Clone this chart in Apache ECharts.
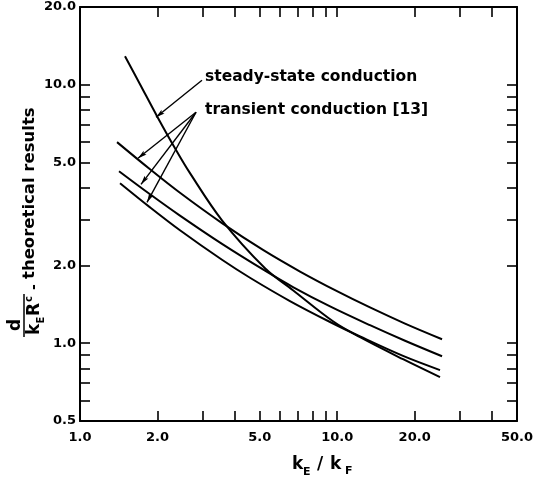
<!DOCTYPE html>
<html>
<head>
<meta charset="utf-8">
<script src="https://cdn.jsdelivr.net/npm/echarts@6/dist/echarts.min.js"></script>
<style>
html, body { margin: 0; padding: 0; background: #fff; }
#chart { width: 539px; height: 481px; }
</style>
</head>
<body>
<div id="chart"></div>
<script>
// axis ticks / labels
var xTicks = [1, 2, 3, 4, 5, 6, 7, 8, 9, 10, 20, 30, 40, 50];
var xLabels = [1, 2, 5, 10, 20, 50];
var yTicks = [0.5, 0.6, 0.7, 0.8, 0.9, 1, 2, 3, 4, 5, 6, 7, 8, 9, 10, 20];
var yLabels = [0.5, 1, 2, 5, 10, 20];

// curves: [kE/kF, value]
var steady = [[1.496, 12.9], [1.711, 10.05], [1.993, 7.56], [2.341, 5.68], [2.677, 4.55],
    [3.565, 2.99], [5.24, 1.951], [6.73, 1.604], [9.63, 1.216], [12.27, 1.055], [18.03, 0.867], [25.1, 0.739]];
var transient1 = [[1.393, 6.0], [1.872, 4.71], [2.447, 3.82], [3.565, 2.915], [5.146, 2.296],
    [7.17, 1.894], [9.98, 1.59], [13.41, 1.375], [18.35, 1.191], [25.56, 1.036]];
var transient2 = [[1.418, 4.63], [1.872, 3.77], [2.447, 3.117], [3.565, 2.423], [5.24, 1.908],
    [6.73, 1.65], [9.38, 1.388], [13.41, 1.174], [18.35, 1.022], [25.56, 0.89]];
var transient3 = [[1.431, 4.16], [1.872, 3.355], [2.447, 2.736], [3.565, 2.103], [4.58, 1.792],
    [6.55, 1.456], [9.38, 1.208], [12.27, 1.062], [18.03, 0.893], [25.1, 0.787]];

// annotation arrows
var steadyArrow = [[2.98, 10.42], [1.975, 7.49]];
var transientFrom = [2.825, 7.83];
var transientTips = [[1.681, 5.20], [1.727, 4.12], [1.822, 3.51]];

var arrowHead = 'path://M-9,-9 M9,9 M0,0 L2.4,9 L0,7.2 L-2.4,9 Z';
var font = 'DejaVu Sans';

function axisX(pos, showLabel) {
    return {
        type: 'log', logBase: 10, min: 1, max: 50, position: pos,
        axisLine: { show: true, lineStyle: { color: '#000', width: 2 } },
        axisTick: { show: true, inside: true, length: 10, customValues: xTicks,
            lineStyle: { color: '#000', width: 1.6 } },
        axisLabel: { show: showLabel, customValues: xLabels, margin: 10,
            color: '#000', fontFamily: font, fontWeight: 'bold', fontSize: 13,
            formatter: function (v) { return v.toFixed(1); } },
        splitLine: { show: false }
    };
}
function axisY(pos, showLabel) {
    return {
        type: 'log', logBase: 10, min: 0.5, max: 20, position: pos,
        axisLine: { show: true, lineStyle: { color: '#000', width: 2 } },
        axisTick: { show: true, inside: true, length: 10, customValues: yTicks,
            lineStyle: { color: '#000', width: 1.6 } },
        axisLabel: { show: showLabel, customValues: yLabels, margin: 4,
            color: '#000', fontFamily: font, fontWeight: 'bold', fontSize: 13,
            formatter: function (v) { return v.toFixed(1); } },
        splitLine: { show: false }
    };
}
function curve(data) {
    return {
        type: 'line', data: data, showSymbol: false, smooth: 0.35, silent: true,
        lineStyle: { color: '#000', width: 2 }
    };
}

var chart = echarts.init(document.getElementById('chart'));

var arrowStyle = { color: '#000', width: 1.4, type: 'solid' };
var s0 = curve(steady);
s0.markLine = {
    silent: true, symbol: ['none', arrowHead], symbolSize: 18, animation: false,
    label: { show: false }, lineStyle: arrowStyle,
    data: [[{ coord: steadyArrow[0] }, { coord: steadyArrow[1] }]]
};
var s1 = curve(transient1);
s1.markLine = {
    silent: true, symbol: ['none', arrowHead], symbolSize: 18, animation: false,
    label: { show: false }, lineStyle: arrowStyle,
    data: transientTips.map(function (t) { return [{ coord: transientFrom }, { coord: t }]; })
};

function txt(x, y, s, size, extra) {
    var o = { type: 'text', x: x, y: y, silent: true,
        style: { text: s, fill: '#000', font: 'bold ' + size + 'px "' + font + '"',
            align: 'left', verticalAlign: 'middle' } };
    if (extra) { for (var k in extra) o.style[k] = extra[k]; }
    return o;
}

var option = {
    animation: false,
    backgroundColor: '#fff',
    grid: { left: 80, right: 22, top: 7, bottom: 60 },
    xAxis: [axisX('bottom', true), axisX('top', false)],
    yAxis: [axisY('left', true), axisY('right', false)],
    series: [s0, s1, curve(transient2), curve(transient3)],
    graphic: [
        txt(205, 77, 'steady-state conduction', 15.5),
        txt(205, 110, 'transient conduction [13]', 15.5),
        // x axis name: kE / kF
        txt(292, 465, 'k', 17),
        txt(303, 472, 'E', 11),
        txt(317, 465, '/', 17),
        txt(330, 465, 'k', 17),
        txt(345, 471, 'F', 11),
        // y axis name, rotated
        {
            type: 'group', x: 30, y: 340, rotation: Math.PI / 2, silent: true,
            children: [
                txt(15, -14, 'd', 17, { align: 'center' }),
                { type: 'line', shape: { x1: 3, y1: -6, x2: 46, y2: -6 },
                  style: { stroke: '#000', lineWidth: 1.5 } },
                txt(5, 4.5, 'k', 17),
                txt(16.5, 11, 'E', 10),
                txt(24, 4.5, 'R', 17),
                txt(38, -1, 'c', 10),
                txt(50, 4, '-', 14),
                txt(61, 0, 'theoretical results', 16.5)
            ]
        }
    ]
};
chart.setOption(option);
</script>
</body>
</html>
